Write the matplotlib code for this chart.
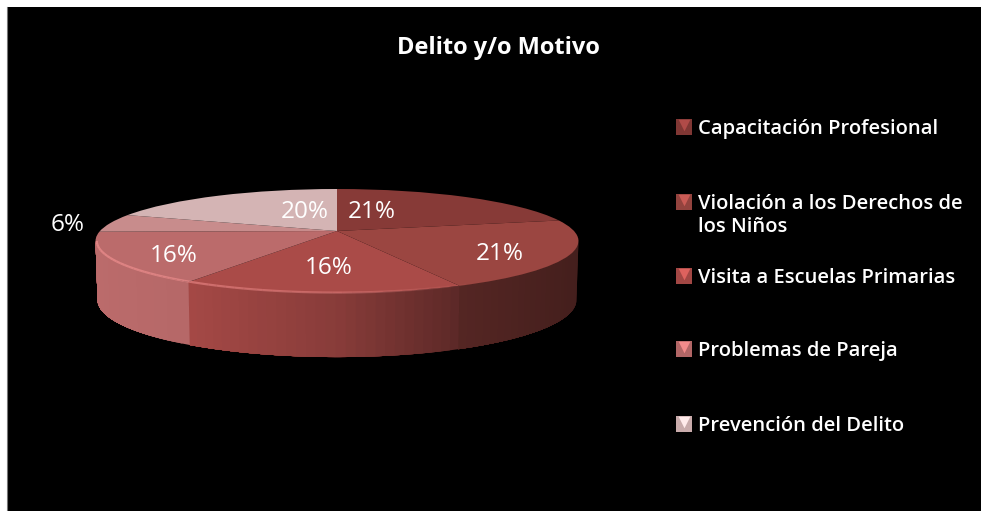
import numpy as np
import matplotlib
matplotlib.use("Agg")
import matplotlib.pyplot as plt
from matplotlib.patches import Rectangle
from matplotlib.transforms import Transform

title = "Delito y/o Motivo"
slice_values = [21.49, 21.49, 15.8, 16.0, 5.7, 19.52]
slice_colors = ["#873A37", "#9B4641", "#AA4B48", "#BB6B6B", "#C88C8C", "#D4B4B4"]
legend_labels = ["Capacitación Profesional", "Violación a los Derechos de\nlos Niños",
                 "Visita a Escuelas Primarias", "Problemas de Pareja", "Prevención del Delito"]
legend_colors = ["#873A37", "#9B4641", "#AA4B48", "#BB6B6B", "#D4B4B4"]

plt.rcParams['font.family'] = ['Open Sans', 'Noto Sans', 'DejaVu Sans']
W, H = 981, 511


class Perspective(Transform):
    input_dims = output_dims = 2

    def __init__(self, x0, y0, kx, ky, c):
        super().__init__()
        self.p = (x0, y0, kx, ky, c)

    def transform_non_affine(self, pts):
        pts = np.asarray(pts, float)
        x0, y0, kx, ky, c = self.p
        d = 1 + c * pts[:, 1]
        return np.column_stack([x0 + kx * pts[:, 0] / d, y0 - ky * pts[:, 1] / d])


PERSP = 0.192
top = Perspective(337, 231, 237, 50.07, PERSP)
bottom = Perspective(337, 289, 235, 55, PERSP)

fig = plt.figure(figsize=(W / 100, H / 100), dpi=100, facecolor="white")
ax = fig.add_axes([0, 0, 1, 1])
wedges, _ = ax.pie(slice_values, colors=slice_colors, startangle=90, counterclock=False,
                   radius=1, wedgeprops=dict(linewidth=0))
ax.set_aspect('auto')
ax.set_xlim(0, W)
ax.set_ylim(H, 0)
ax.axis('off')
ax.add_patch(Rectangle((6.5, 7), W, H, facecolor="black", edgecolor="none", zorder=0))
ax.plot([6.5, 6.5], [7, H], color="#777777", lw=0.8, zorder=1)

for w in wedges:
    w.set_transform(top + ax.transData)
    w.set_zorder(5)

# visible wall runs between the silhouette points of the projected disc
lim = np.degrees(np.arcsin(PERSP))
wall_lo, wall_hi = 180 + lim, 360 - lim
shade_x = [95, 188, 337, 455, 578]
shade_v = [1.0, 0.97, 0.80, 0.55, 0.44]
for w, col in zip(wedges, slice_colors):
    rgb = np.array(matplotlib.colors.to_rgb(col))
    for lo, hi in [(w.theta1, w.theta2), (w.theta1 + 360, w.theta2 + 360), (w.theta1 - 360, w.theta2 - 360)]:
        a0, a1 = max(lo, wall_lo), min(hi, wall_hi)
        if a1 <= a0:
            continue
        edges = np.radians(np.linspace(a0, a1, int((a1 - a0) / 2) + 2))
        # paint from the far end so each strip overlaps the previous one without seams
        for i in range(len(edges) - 1, 0, -1):
            a, b = edges[0], edges[i]
            arc = np.linspace(a, b, i + 2)
            uv = np.column_stack([np.cos(arc), np.sin(arc)])
            t = top.transform(uv)
            bt = bottom.transform(uv)
            xs = np.r_[t[:, 0], bt[::-1, 0]]
            ys = np.r_[t[:, 1], bt[::-1, 1]]
            s = np.interp(t[-2:, 0].mean(), shade_x, shade_v)
            ax.fill(xs, ys, color=tuple(rgb * s), lw=0, zorder=2)

# bevel highlight along the front rim
ths = np.radians(np.arange(wall_lo, 341, 2.0))
for a, b in zip(ths[:-1], ths[1:]):
    seg = top.transform(np.array([[np.cos(a), np.sin(a)], [np.cos(b), np.sin(b)]]) * 0.995)
    al = np.interp(seg[0, 0], [95, 337, 470], [0.55, 0.35, 0.0])
    ax.plot(seg[:, 0], seg[:, 1], color="#FF9A9A", alpha=al, lw=1.6, zorder=6,
            solid_capstyle='butt')

pct_labels = [f"{round(v)}%" for v in slice_values]
pct_pos = [(372, 211.5), (500, 253.5), (329, 267.5), (174, 255.5), (68, 225), (305, 211.5)]
for s, (x, y) in zip(pct_labels, pct_pos):
    ax.text(x, y, s, color="white", fontsize=17.5, ha='center', va='center', zorder=8)

ax.text(498, 48.5, title, color="white", fontsize=17, fontweight='bold',
        ha='center', va='center', zorder=8)

leg_y = [127, 202, 276, 349, 424]
for y, lab, col in zip(leg_y, legend_labels, legend_colors):
    rgb = np.array(matplotlib.colors.to_rgb(col))
    light = tuple(np.minimum(rgb * 1.3, 1))
    ax.scatter([684], [y], marker='s', s=120, color=tuple(rgb * 0.95), lw=0, zorder=7)
    ax.scatter([684], [y - 1.5], marker='v', s=70, color=light, lw=0, zorder=7)
    ax.text(698, y - 8, lab, color="white", fontsize=14.5, fontweight='semibold',
            ha='left', va='top', linespacing=1.2, zorder=8)

fig.savefig("out.png", dpi=100, facecolor="white")
